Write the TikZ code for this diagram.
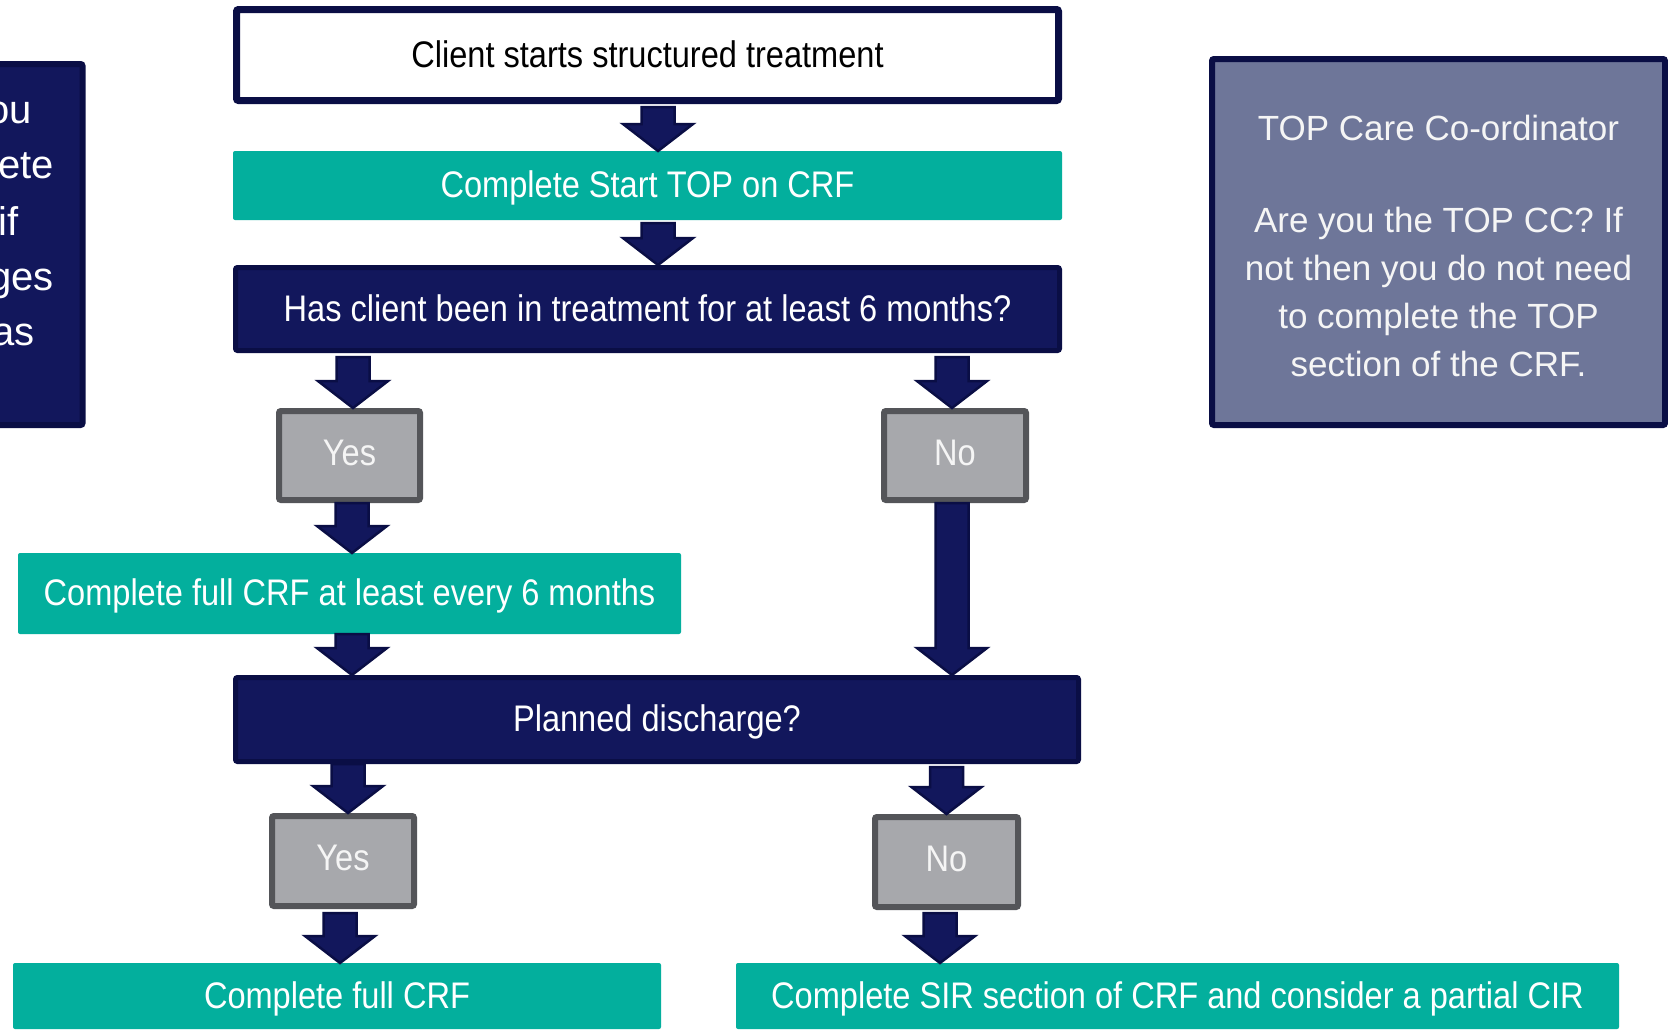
\documentclass[tikz,border=0pt]{standalone}
\usepackage{fontspec}
\setmainfont{Liberation Sans}
\newfontfamily\flowfont{Liberation Sans}[FakeStretch=0.88]
\usetikzlibrary{calc}
\definecolor{navy}{HTML}{12175C}
\definecolor{navyline}{HTML}{0A0E45}
\definecolor{tealc}{HTML}{03AF9D}
\definecolor{greyfill}{HTML}{A7A8AC}
\definecolor{greyline}{HTML}{545559}
\definecolor{slate}{HTML}{6E7699}
\tikzset{
  flow/.style={inner sep=0pt, outer sep=auto, font=\flowfont\fontsize{37}{44}\selectfont,
    text height=27pt, text depth=3pt, rounded corners=2pt},
  whitebox/.style={flow, fill=white, draw=navyline, line width=7pt, text=black},
  tealbox/.style={flow, fill=tealc, text=white},
  navybox/.style={flow, fill=navy, draw=navyline, line width=5pt, text=white},
  greybox/.style={flow, fill=greyfill, draw=greyline, line width=6pt, text=white!96!black, text depth=8pt},
  sidebox/.style={inner sep=0pt, outer sep=auto, line width=6pt, rounded corners=2pt},
  sidetext/.style={inner sep=0pt, text=white, font=\fontsize{40}{55}\selectfont, anchor=base east},
  blockarrow/.style={fill=navy, draw=navyline, line width=2.5pt, line join=miter},
}
\newcommand\barrow[2]{%
  \draw[blockarrow] let \p1=(#1), \p2=(#2) in
    ({\x2-16.5pt},\y1) -- ({\x2+16.5pt},\y1) -- ({\x2+16.5pt},{\y2+27pt}) --
    ({\x2+35pt},{\y2+27pt}) -- (\x2,\y2) -- ({\x2-35pt},{\y2+27pt}) --
    ({\x2-16.5pt},{\y2+27pt}) -- cycle;}
\begin{document}
\begin{tikzpicture}[x=1pt,y=-1pt]
\useasboundingbox (0,0) rectangle (1668,1029);
\clip (0,0) rectangle (1668,1029);
\fill[white] (0,0) rectangle (1668,1029);

% side boxes
\node[sidebox, fill=navy, draw=navyline, minimum width=279pt, minimum height=361pt] (leftbox) at (-57,244.5) {};
\node[sidetext] (lt1) at (32,123) {ou};
\node[sidetext] (lt2) at (54,178) {ete};
\node[sidetext] (lt3) at (19,235) {if};
\node[sidetext] (lt4) at (54,290) {ges};
\node[sidetext] (lt5) at (35,345) {as};

\node[sidebox, fill=slate, draw=navyline, minimum width=453pt, minimum height=366pt] (rightbox) at (1438.5,242) {};
\node[inner sep=0pt, text=white!96!black, align=center, font=\fontsize{35}{48}\selectfont] (rtext) at (1438.5,245.7)
  {TOP Care Co-ordinator\\[44pt]Are you the TOP CC? If\\not then you do not need\\to complete the TOP\\section of the CRF.};

% flow boxes
\node[whitebox, minimum width=822pt, minimum height=91pt] (top) at (647.5,55) {Client starts structured treatment};
\node[tealbox, minimum width=829pt, minimum height=69pt] (teal1) at (647.5,185.5) {Complete Start TOP on CRF};
\node[navybox, minimum width=824pt, minimum height=83pt] (nav1) at (647.5,309) {Has client been in treatment for at least 6 months?};
\node[greybox, minimum width=141pt, minimum height=89pt] (yes1) at (349.5,455.5) {Yes};
\node[greybox, minimum width=142pt, minimum height=89pt] (no1) at (955,455.5) {No};
\node[tealbox, minimum width=663pt, minimum height=81pt] (teal2) at (349.5,593.5) {Complete full CRF at least every 6 months};
\node[navybox, minimum width=843pt, minimum height=84pt] (nav2) at (657,719.5) {Planned discharge?};
\node[greybox, minimum width=142pt, minimum height=90pt] (yes2) at (343,861) {Yes};
\node[greybox, minimum width=143pt, minimum height=90pt] (no2) at (946.5,862) {No};
\node[tealbox, minimum width=648pt, minimum height=66pt] (teal3) at (337,996) {Complete full CRF};
\node[tealbox, minimum width=883pt, minimum height=66pt] (teal4) at (1177.5,996) {Complete SIR section of CRF and consider a partial CIR};

% block arrows
\barrow{$(top.south)+(10.5,3)$}{$(teal1.north)+(10.5,0)$}
\barrow{$(teal1.south)+(10.5,3)$}{$(nav1.north)+(10.5,0)$}
\barrow{$(nav1.south -| yes1.north)+(3.5,4)$}{$(yes1.north)+(3.5,0)$}
\barrow{$(nav1.south -| no1.north)+(-3,4)$}{$(no1.north)+(-3,0)$}
\barrow{$(yes1.south)+(2.5,0)$}{$(yes1.south |- teal2.north)+(2.5,0)$}
\barrow{$(no1.south)+(-3,0)$}{$(no1.south |- nav2.north)+(-3,0)$}
\barrow{$(teal2.south)+(2.5,0)$}{$(teal2.south |- nav2.north)+(2.5,0)$}
\barrow{$(nav2.south -| yes2.north)+(5,0)$}{$(yes2.north)+(5,0)$}
\barrow{$(nav2.south -| no2.north)+(0,3)$}{$(no2.north)+(0,0)$}
\barrow{$(yes2.south)+(-3,4)$}{$(yes2.south |- teal3.north)+(-3,0)$}
\barrow{$(no2.south)+(-6.5,3)$}{$(no2.south |- teal4.north)+(-6.5,0)$}
\end{tikzpicture}
\end{document}
